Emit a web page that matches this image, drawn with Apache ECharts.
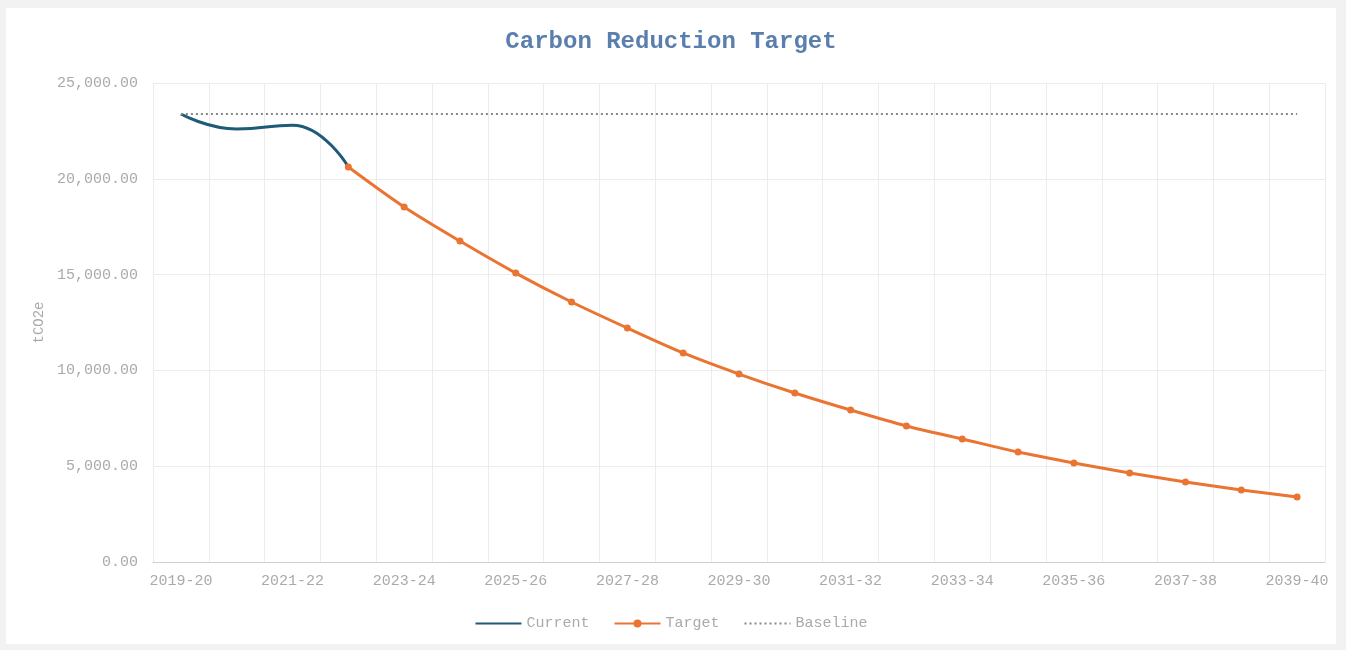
<!DOCTYPE html>
<html>
<head>
<meta charset="utf-8">
<title>Carbon Reduction Target</title>
<script src="https://cdn.jsdelivr.net/npm/echarts@6/dist/echarts.min.js"></script>
<style>
  html, body { margin: 0; padding: 0; background: #f2f2f2; }
  #chart { position: absolute; left: 6px; top: 8px; width: 1330px; height: 636px; background: #fff; }
</style>
</head>
<body>
<div id="chart"></div>
<script>
// financial years on the x axis
var years = ['2019-20', '2020-21', '2021-22', '2022-23', '2023-24', '2024-25', '2025-26',
  '2026-27', '2027-28', '2028-29', '2029-30', '2030-31', '2031-32', '2032-33', '2033-34',
  '2034-35', '2035-36', '2036-37', '2037-38', '2038-39', '2039-40']

// actual emissions so far (tCO2e)
var current = [23380, 22600, 22800, 20615, null, null, null, null, null, null, null,
  null, null, null, null, null, null, null, null, null, null]

// target path from 2022-23 on
var target = [null, null, null, 20615, 18530, 16750, 15080, 13570, 12210, 10910, 9810,
  8820, 7930, 7100, 6420, 5740, 5170, 4650, 4180, 3760, 3390]

// baseline year value, flat across every year
var baseline = [23380, 23380, 23380, 23380, 23380, 23380, 23380, 23380, 23380, 23380, 23380,
  23380, 23380, 23380, 23380, 23380, 23380, 23380, 23380, 23380, 23380]

var mono = '"Liberation Mono", "DejaVu Sans Mono", monospace'

var chart = echarts.init(document.getElementById('chart'))
var option = {
  animation: false,
  textStyle: { fontFamily: mono },
  title: {
    text: 'Carbon Reduction Target',
    left: 'center',
    top: 17,
    textStyle: { fontFamily: mono, fontSize: 24, fontWeight: 'bold', color: '#5a7fae' }
  },
  legend: {
    bottom: 8,
    left: 'center',
    itemWidth: 46,
    itemHeight: 10,
    itemGap: 24,
    textStyle: { fontFamily: mono, fontSize: 15, color: '#aaa' },
    data: [
      { name: 'Current', itemStyle: { opacity: 0 } },
      { name: 'Target' },
      { name: 'Baseline', itemStyle: { opacity: 0 } }
    ]
  },
  grid: { left: 147, right: 11, top: 75, bottom: 82 },
  xAxis: {
    type: 'category',
    data: years,
    boundaryGap: true,
    axisLine: { lineStyle: { color: '#d0d0d0' } },
    axisTick: { show: false },
    axisLabel: { interval: 1, color: '#aaa', fontSize: 15, fontFamily: mono, margin: 12 },
    splitLine: { show: true, interval: 0, lineStyle: { color: '#ececec' } }
  },
  yAxis: {
    type: 'value',
    min: 0,
    max: 25000,
    interval: 5000,
    name: 'tCO2e',
    nameLocation: 'middle',
    nameGap: 102,
    nameTextStyle: { color: '#aaa', fontFamily: mono, fontSize: 14 },
    axisLine: { show: false },
    axisTick: { show: false },
    axisLabel: {
      color: '#aaa',
      fontSize: 15,
      fontFamily: mono,
      margin: 15,
      formatter: function (v) {
        return v.toLocaleString('en-US', { minimumFractionDigits: 2, maximumFractionDigits: 2 })
      }
    },
    splitLine: { lineStyle: { color: '#ececec' } }
  },
  series: [
    {
      name: 'Current',
      type: 'line',
      data: current,
      smooth: 0.5,
      showSymbol: false,
      symbol: 'none',
      color: '#1f5a78',
      lineStyle: { width: 3, color: '#1f5a78' }
    },
    {
      name: 'Target',
      type: 'line',
      data: target,
      smooth: 0.3,
      symbol: 'circle',
      symbolSize: 7,
      color: '#ea7432',
      itemStyle: { color: '#ea7432' },
      lineStyle: { width: 3, color: '#ea7432' }
    },
    {
      name: 'Baseline',
      type: 'line',
      data: baseline,
      symbol: 'none',
      color: '#888',
      lineStyle: { width: 2, type: [2, 3], color: '#888' }
    }
  ]
}
chart.setOption(option)
window.addEventListener('resize', function () {
  chart.resize()
})
</script>
</body>
</html>
